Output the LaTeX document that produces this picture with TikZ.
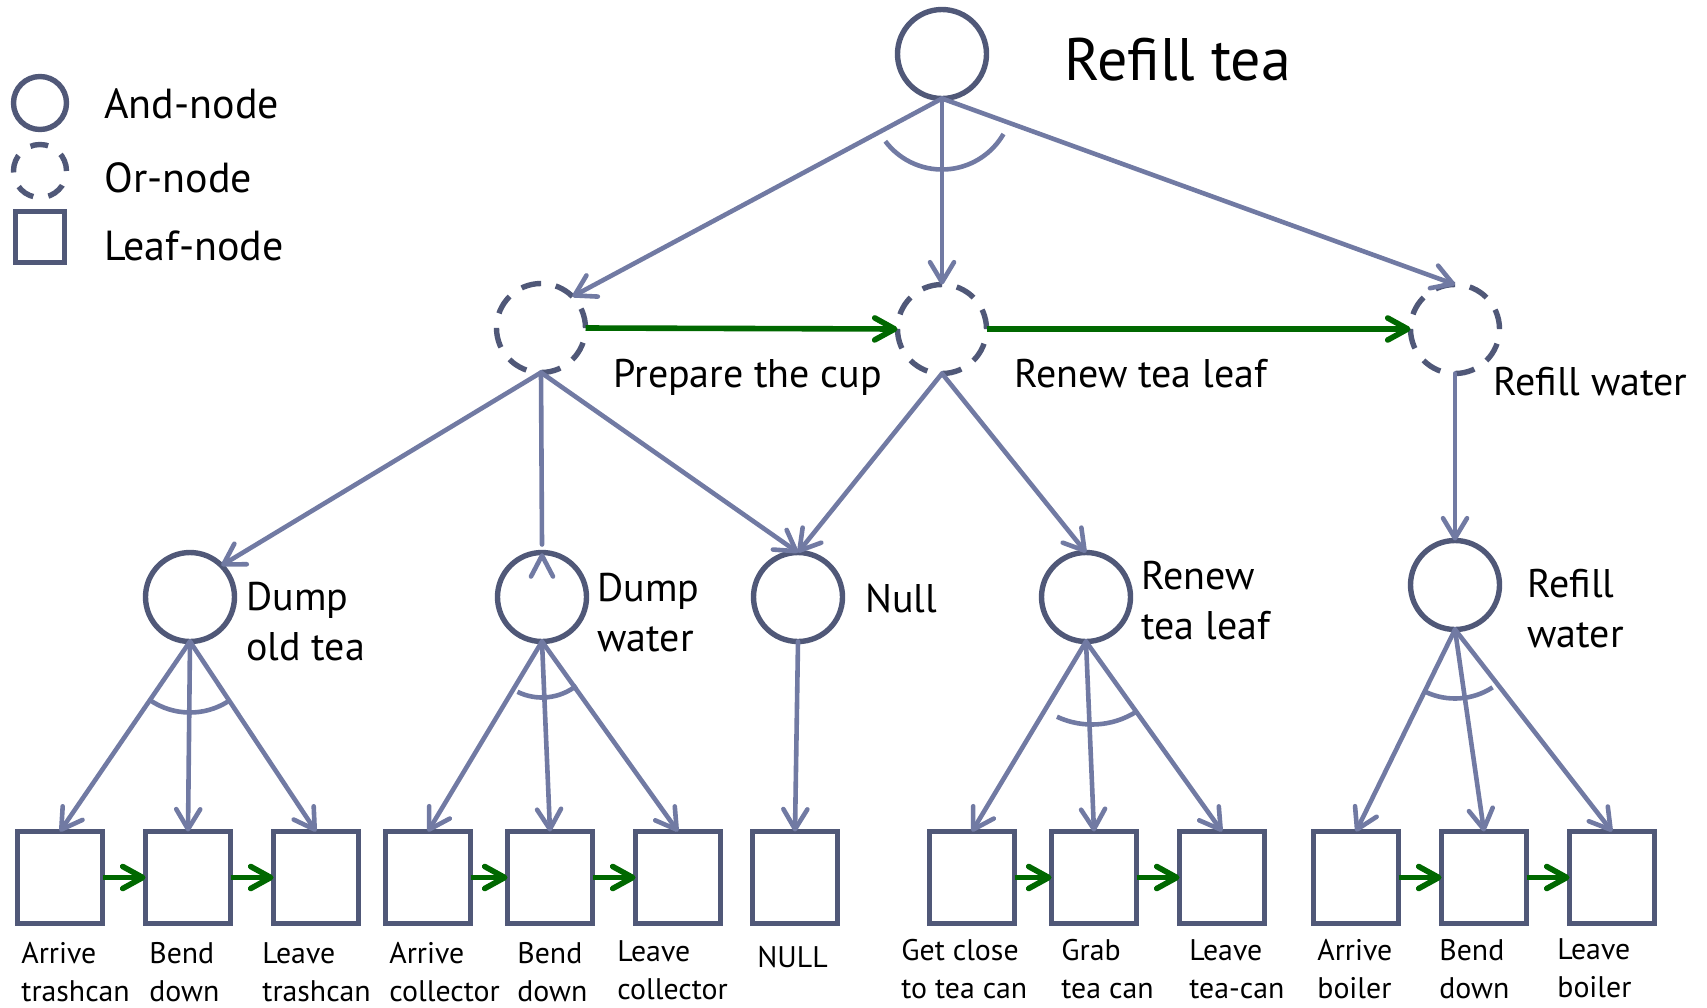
\documentclass[tikz,border=0pt]{standalone}
\usepackage{fontspec}
\setmainfont{PT Sans}
\usetikzlibrary{arrows.meta,calc}
\definecolor{nodecol}{RGB}{80,88,120}
\definecolor{linecol}{RGB}{113,122,163}
\definecolor{seqcol}{RGB}{0,104,0}
\newcommand\mytwo[2]{\begin{tabular}[t]{@{}l@{}}#1\\#2\end{tabular}}
\begin{document}
\begin{tikzpicture}[x=0.5pt,y=-0.5pt,
  andnode/.style={circle,draw=nodecol,line width=2.7pt,minimum size=44.5pt,inner sep=0pt,outer sep=0pt},
  ornode/.style={andnode,dash pattern=on 10pt off 7.47pt},
  leafbox/.style={rectangle,draw=nodecol,line width=2.8pt,minimum width=42.5pt,minimum height=46pt,inner sep=0pt,outer sep=0pt},
  conn/.style={draw=linecol,line width=2.3pt,line cap=round,-{Straight Barb[length=10pt,width=12pt,round]}},
  connline/.style={draw=linecol,line width=2.3pt,line cap=round,line join=round},
  seq/.style={draw=seqcol,line width=2.8pt,-{Straight Barb[length=10pt,width=11pt,round]}},
  andarc/.style={draw=linecol,line width=2.3pt},
  lbig/.style={font=\fontsize{30}{36}\selectfont,anchor=base west,inner sep=0pt},
  lmid/.style={font=\fontsize{20}{25}\selectfont,anchor=base west,inner sep=0pt},
  lleg/.style={font=\fontsize{21}{25}\selectfont,anchor=base west,inner sep=0pt},
  lsmall/.style={font=\fontsize{14.9}{19}\selectfont,anchor=base west,inner sep=0pt},
]
\useasboundingbox (0,0) rectangle (1707,1007);

% legend
\node[andnode,minimum size=26.5pt] (legA) at (40,103) {};
\node[ornode,minimum size=26.5pt,dash pattern=on 9pt off 7.65pt] (legO) at (40,171) {};
\node[leafbox,minimum width=24.5pt,minimum height=25.5pt] (legL) at (40,237) {};
\node[lleg] (tA) at (104,118) {And-node};
\node[lleg] (tO) at (104,192) {Or-node};
\node[lleg] (tL) at (104,260) {Leaf-node};

% tree nodes
\node[andnode] (root) at (942,54) {};
\node[ornode] (orL) at (541,328) {};
\node[ornode] (orM) at (942,329) {};
\node[ornode] (orR) at (1455,329) {};
\node[andnode] (dot) at (190,597) {};
\node[andnode] (dw) at (542,597) {};
\node[andnode] (nul) at (798,597) {};
\node[andnode] (rtl) at (1086,597) {};
\node[andnode] (rw) at (1455,585) {};
\foreach \i/\x in {1/60,2/188,3/316,4/428,5/550,6/678,7/795,8/972,9/1094,10/1222,11/1356,12/1484,13/1612}
  \node[leafbox] (l\i) at (\x,877.5) {};

% labels
\node[lbig] (title) at (1064,80) {Refill tea};
\node[lmid] (tPrep) at (613,387) {Prepare the cup};
\node[lmid] (tRenew) at (1014,387) {Renew tea leaf};
\node[lmid] (tRefill) at (1493,395) {Refill water};
\node[lmid] (tDot) at (246,610) {\mytwo{Dump}{old tea}};
\node[lmid] (tDw) at (597,601) {\mytwo{Dump}{water}};
\node[lmid] (tNul) at (865,612) {Null};
\node[lmid] (tRtl) at (1141,589) {\mytwo{Renew}{tea leaf}};
\node[lmid] (tRw) at (1527,597) {\mytwo{Refill}{water}};

\node[lsmall] (a1) at (21,963) {\mytwo{Arrive}{trashcan}};
\node[lsmall] (a2) at (149,963) {\mytwo{Bend}{down}};
\node[lsmall] (a3) at (262,963) {\mytwo{Leave}{trashcan}};
\node[lsmall] (a4) at (389,963) {\mytwo{Arrive}{collector}};
\node[lsmall] (a5) at (517,963) {\mytwo{Bend}{down}};
\node[lsmall] (a6) at (617,961) {\mytwo{Leave}{collector}};
\node[lsmall] (a7) at (757,967) {NULL};
\node[lsmall] (a8) at (901,960) {\mytwo{Get close}{to tea can}};
\node[lsmall] (a9) at (1061,960) {\mytwo{Grab}{tea can}};
\node[lsmall] (a10) at (1189,960) {\mytwo{Leave}{tea-can}};
\node[lsmall] (a11) at (1317,960) {\mytwo{Arrive}{boiler}};
\node[lsmall] (a12) at (1439,960) {\mytwo{Bend}{down}};
\node[lsmall] (a13) at (1557,959) {\mytwo{Leave}{boiler}};

% connectors
\draw[conn] (root.south) -- (orL.north east);
\draw[conn] (root.south) -- (orM.north);
\draw[conn] (root.south) -- (orR.north);
\draw[andarc] (root.south) ++(217:35.5pt) arc[start angle=217,end angle=330,radius=35.5pt];

\draw[conn] (orL.south) -- (dot.north east);
\draw[connline] (orL.south) -- ($(dw.north)+(0,-8)$);
\draw[connline] ($(dw.north)+(-11,24)$) -- ($(dw.north)+(0,3)$) -- ($(dw.north)+(11,24)$);
\draw[conn] (orL.south) -- (nul.north);
\draw[conn] (orM.south) -- (nul.north);
\draw[conn] (orM.south) -- (rtl.north);
\draw[conn] (orR.south) -- (rw.north);

\draw[seq] (orL.east) -- (orM.west);
\draw[seq] (orM.east) -- (orR.west);

\foreach \p/\a/\b/\c in {dot/1/2/3,dw/4/5/6,rtl/8/9/10,rw/11/12/13}{
  \draw[conn] (\p.south) -- (l\a.north);
  \draw[conn] (\p.south) -- (l\b.north);
  \draw[conn] (\p.south) -- (l\c.north);
}
\draw[conn] (nul.south) -- (l7.north);

\draw[andarc] (dot.south) ++(236:35.5pt) arc[start angle=236,end angle=302,radius=35.5pt];
\draw[andarc] (dw.south) ++(244:28pt) arc[start angle=244,end angle=308,radius=28pt];
\draw[andarc] ($(rtl.south)+(6,0)$) ++(245:41.5pt) arc[start angle=245,end angle=302,radius=41.5pt];
\draw[andarc] (rw.south) ++(245:34.5pt) arc[start angle=245,end angle=303,radius=34.5pt];

\foreach \a/\b in {1/2,2/3,4/5,5/6,8/9,9/10,11/12,12/13}
  \draw[seq] (l\a.east) -- (l\b.west);
\end{tikzpicture}
\end{document}
